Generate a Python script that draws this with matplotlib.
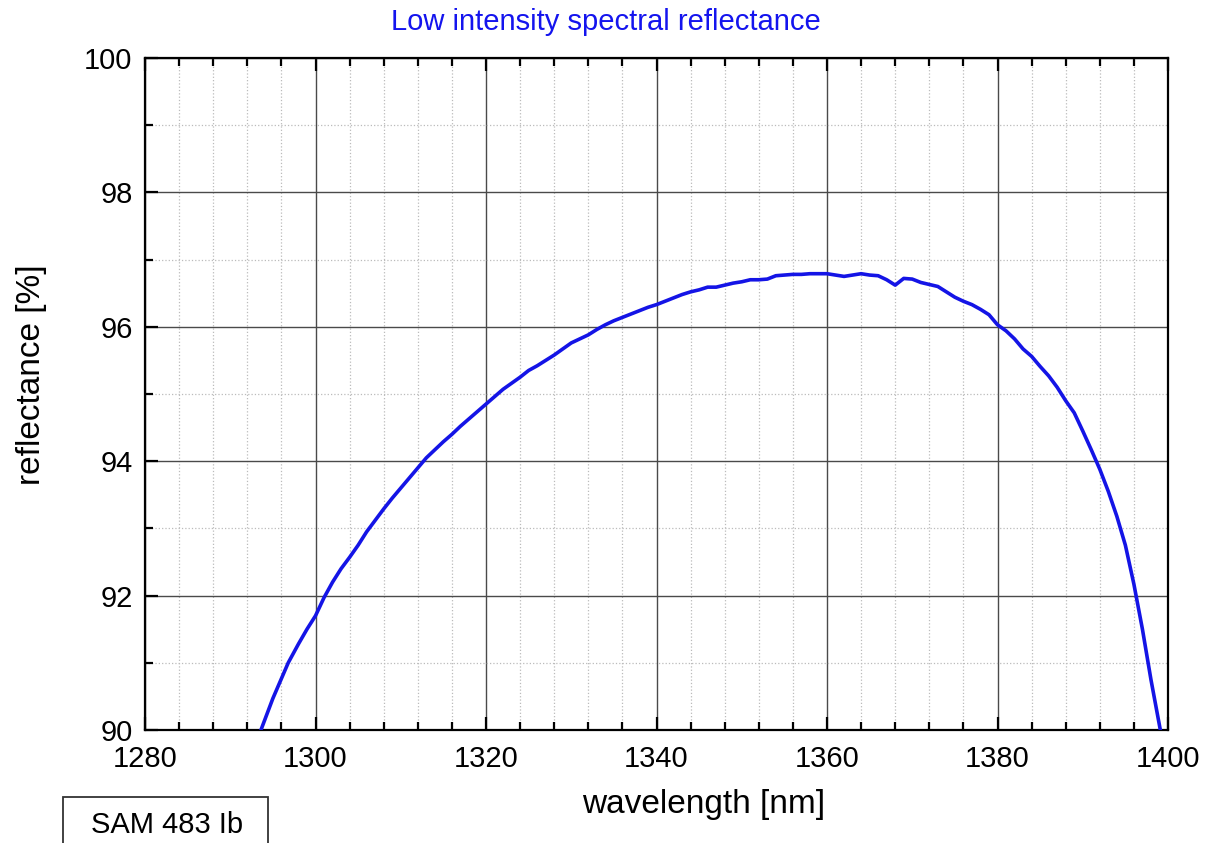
import matplotlib
matplotlib.use('Agg')
import matplotlib.pyplot as plt
from matplotlib.ticker import MultipleLocator
from matplotlib.patches import Rectangle

plt.rcParams['font.family'] = ['Liberation Sans', 'DejaVu Sans']

wavelength = [1293.6, 1295.0, 1296.8, 1298.0, 1299.0, 1300.0, 1301.0, 1302.0, 1303.0, 1304.0,
              1305.0, 1306.0, 1307.0, 1308.0, 1309.0, 1310.0, 1311.0, 1312.0, 1313.0, 1314.0,
              1315.0, 1316.0, 1317.0, 1318.0, 1319.0, 1320.0, 1321.0, 1322.0, 1323.0, 1324.0,
              1325.0, 1326.0, 1327.0, 1328.0, 1329.0, 1330.0, 1331.0, 1332.0, 1333.0, 1334.0,
              1335.0, 1336.0, 1337.0, 1338.0, 1339.0, 1340.0, 1341.0, 1342.0, 1343.0, 1344.0,
              1345.0, 1346.0, 1347.0, 1348.0, 1349.0, 1350.0, 1351.0, 1352.0, 1353.0, 1354.0,
              1355.0, 1356.0, 1357.0, 1358.0, 1359.0, 1360.0, 1361.0, 1362.0, 1363.0, 1364.0,
              1365.0, 1366.0, 1367.0, 1368.0, 1369.0, 1370.0, 1371.0, 1372.0, 1373.0, 1374.0,
              1375.0, 1376.0, 1377.0, 1378.0, 1379.0, 1380.0, 1381.0, 1382.0, 1383.0, 1384.0,
              1385.0, 1386.0, 1387.0, 1388.0, 1389.0, 1390.0, 1391.0, 1392.0, 1393.0, 1394.0,
              1395.0, 1396.0, 1397.0, 1398.0, 1399.1]
reflectance = [90.00, 90.47, 91.00, 91.28, 91.50, 91.70, 91.97, 92.20, 92.40, 92.57,
               92.75, 92.95, 93.12, 93.29, 93.45, 93.60, 93.75, 93.90, 94.05, 94.17,
               94.29, 94.40, 94.52, 94.63, 94.74, 94.85, 94.96, 95.07, 95.16, 95.25,
               95.35, 95.42, 95.50, 95.58, 95.67, 95.76, 95.82, 95.88, 95.96, 96.03,
               96.09, 96.14, 96.19, 96.24, 96.29, 96.33, 96.38, 96.43, 96.48, 96.52,
               96.55, 96.59, 96.59, 96.62, 96.65, 96.67, 96.70, 96.70, 96.71, 96.76,
               96.77, 96.78, 96.78, 96.79, 96.79, 96.79, 96.77, 96.75, 96.77, 96.79,
               96.77, 96.76, 96.70, 96.62, 96.72, 96.71, 96.66, 96.63, 96.60, 96.52,
               96.44, 96.38, 96.33, 96.26, 96.18, 96.03, 95.94, 95.82, 95.67, 95.56,
               95.41, 95.27, 95.10, 94.90, 94.72, 94.45, 94.17, 93.88, 93.55, 93.18,
               92.75, 92.17, 91.50, 90.75, 90.00]

fig = plt.figure(figsize=(12.08, 8.43), dpi=100)
ax = fig.add_axes([145/1208, 113/843, (1168-145)/1208, (730-58)/843])

ax.plot(wavelength, reflectance, color='#1414e6', lw=2.6, zorder=3)

ax.set_xlim(1280, 1400)
ax.set_ylim(90, 100)
ax.xaxis.set_major_locator(MultipleLocator(20))
ax.xaxis.set_minor_locator(MultipleLocator(4))
ax.yaxis.set_major_locator(MultipleLocator(2))
ax.yaxis.set_minor_locator(MultipleLocator(1))

ax.grid(which='major', color='#4a4a4a', lw=1.0, ls='-')
ax.grid(which='minor', color='#bbbbbb', lw=0.9, ls=':')
ax.set_axisbelow(True)

ax.tick_params(which='both', direction='in', top=True, right=False, width=1.6,
               labelsize=21)
ax.tick_params(axis='x', which='major', pad=11)
ax.tick_params(axis='y', which='major', pad=9)
ax.tick_params(which='major', length=9.5)
ax.tick_params(which='minor', length=5.8)
for s in ax.spines.values():
    s.set_linewidth(1.6)

fig.text(704/1208, 1 - 805/843, 'wavelength [nm]', fontsize=24, ha='center', va='center')
fig.text(32/1208, 1 - 375/843, 'reflectance [%]', fontsize=24, ha='center', va='center',
         rotation=90)
fig.text(606/1208, 1 - 22/843, 'Low intensity spectral reflectance', color='#1414ee',
         fontsize=21, ha='center', va='center')

fig.patches.append(Rectangle((63/1208, -0.01), (268-63)/1208, (46/843)+0.01,
                             transform=fig.transFigure, fill=False,
                             edgecolor='#333333', lw=1.3))
fig.text(167/1208, 1 - 825/843, 'SAM 483 Ib', fontsize=21, ha='center', va='center')

plt.savefig('out.png', dpi=100)
